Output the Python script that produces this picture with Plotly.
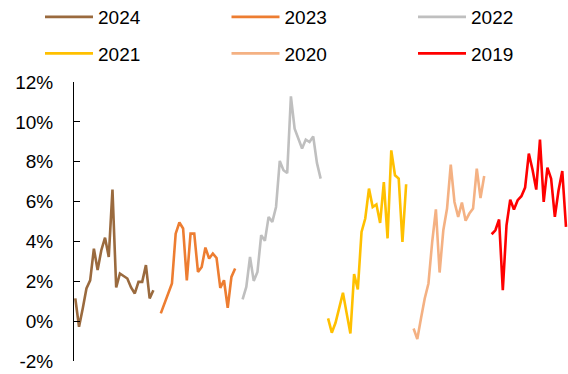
import plotly.graph_objects as go

years = ["2024", "2023", "2022", "2021", "2020", "2019"]
colors = ["#9A6A3E", "#ED7D31", "#BFBFBF", "#FFC000", "#F4B183", "#FF0000"]

v2024 = [1.14, -0.28, 0.64, 1.64, 2.05, 3.64, 2.56, 3.56, 4.19, 3.22, 6.60,
         1.69, 2.39, 2.26, 2.14, 1.69, 1.39, 1.97, 1.97, 2.81, 1.14, 1.55]
v2023 = [0.39, 0.89, 1.39, 1.89, 4.39, 4.95, 4.65, 2.05, 4.39, 4.39, 2.47,
         2.72, 3.69, 3.14, 3.39, 3.17, 1.67, 2.05, 0.67, 2.22, 2.64]
v2022 = [1.09, 1.72, 3.22, 2.02, 2.47, 4.31, 4.03, 5.23, 4.98, 5.73, 8.04,
         7.57, 7.43, 11.28, 9.66, 9.11, 8.66, 9.11, 8.99, 9.27, 7.94, 7.15]
v2021 = [0.14, -0.58, -0.08, 0.64, 1.42, 0.39, -0.62, 2.36, 1.59, 4.48, 5.15,
         6.65, 5.73, 5.86, 4.93, 6.98, 4.15, 8.57, 7.32, 7.15, 3.97, 6.87]
v2020 = [-0.37, -0.90, 0.14, 1.14, 1.89, 3.97, 5.61, 2.44, 4.56, 5.65, 7.85,
         5.98, 5.23, 5.95, 5.04, 5.40, 5.65, 7.65, 6.18, 7.28]
v2019 = [4.36, 4.56, 5.10, 1.55, 4.81, 6.10, 5.60, 6.07, 6.27, 6.70, 8.41,
         7.60, 6.60, 9.11, 5.98, 7.70, 7.15, 5.23, 6.57, 7.53, 4.73]

series = [v2024, v2023, v2022, v2021, v2020, v2019]

ytickvals = [-2, 0, 2, 4, 6, 8, 10, 12]
yticktext = ["-2%", "0%", "2%", "4%", "6%", "8%", "10%", "12%"]

FONT = "Liberation Sans, Arial, sans-serif"

fig = go.Figure()
legend_layouts = {}
start = 0
for i, (name, col, vals) in enumerate(zip(years, colors, series)):
    xs = list(range(start, start + len(vals)))
    start += len(vals) + 1
    lg = "legend" if i == 0 else f"legend{i + 1}"
    fig.add_trace(go.Scatter(
        x=xs, y=vals, mode="lines", name=name,
        line=dict(color=col, width=2.6),
        legend=lg, hoverinfo="skip",
    ))
    col_i, row_i = i % 3, i // 3
    lx = 40 + 186.5 * col_i
    ly = 17 + 36.5 * row_i
    legend_layouts[lg] = dict(
        orientation="h", xref="container", yref="container",
        x=lx / 568, y=1 - ly / 374, xanchor="left", yanchor="middle",
        font=dict(family=FONT, size=19, color="#000000"),
        itemwidth=48, bgcolor="rgba(0,0,0,0)", borderwidth=0,
    )

fig.update_layout(
    width=568, height=374,
    margin=dict(l=74, r=0, t=82, b=13, pad=0, autoexpand=False),
    paper_bgcolor="white", plot_bgcolor="white",
    font=dict(family=FONT, size=19, color="#000000"),
    showlegend=True,
    xaxis=dict(range=[-0.35, 132.54], showline=False, showticklabels=False,
               ticks="", showgrid=False, zeroline=False),
    yaxis=dict(range=[-2, 12], tickvals=ytickvals, ticktext=yticktext,
               showline=True, linecolor="#000000", linewidth=1,
               ticks="inside", ticklen=6, tickcolor="#000000", tickwidth=1,
               showgrid=False, zeroline=False, ticklabelstandoff=16),
    **legend_layouts,
)

fig.write_html("out.html")
